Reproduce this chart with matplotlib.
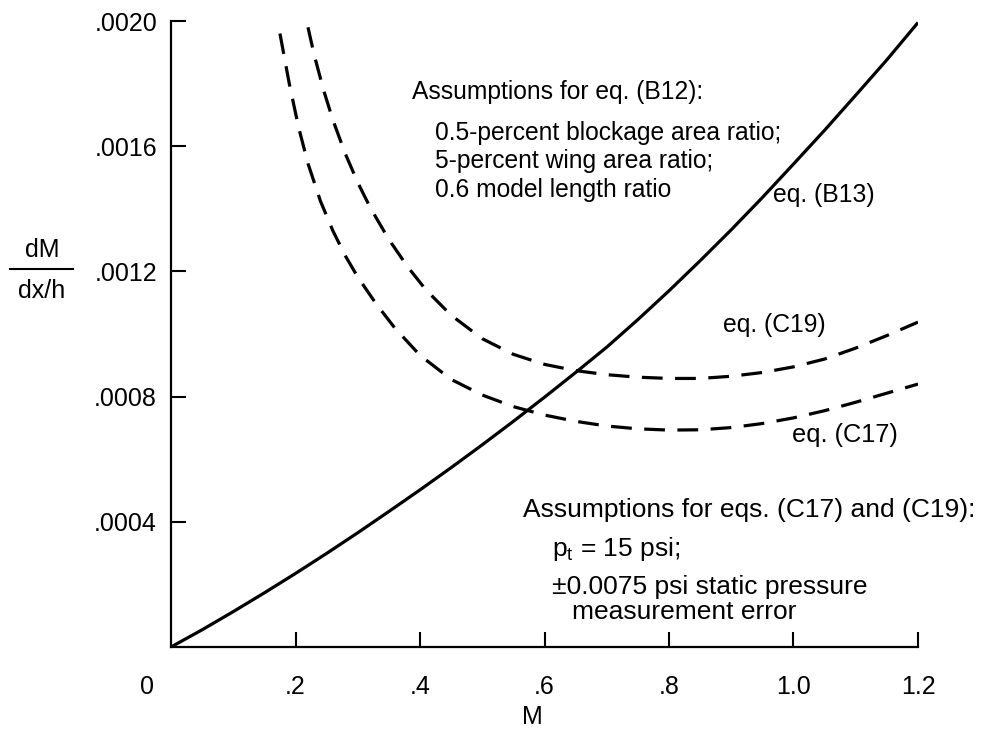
import matplotlib
matplotlib.use("Agg")
import matplotlib.pyplot as plt
from matplotlib.lines import Line2D

plt.rcParams['font.family'] = ['Liberation Sans', 'DejaVu Sans']
plt.rcParams['mathtext.fontset'] = 'custom'
plt.rcParams['mathtext.rm'] = 'Liberation Sans'
plt.rcParams['mathtext.it'] = 'Liberation Sans'

# ---- data ----
m_b13 = [0, 0.05, 0.1, 0.15, 0.2, 0.25, 0.3, 0.35, 0.4, 0.45, 0.5, 0.55, 0.6,
         0.65, 0.7, 0.75, 0.8, 0.85, 0.9, 0.95, 1.0, 1.05, 1.1, 1.15, 1.2]
dm_b13 = [0, 0.000055, 0.000113, 0.000173, 0.000235, 0.000299, 0.000365,
          0.000433, 0.000502, 0.000573, 0.000646, 0.000721, 0.000798,
          0.000877, 0.000958, 0.001046, 0.001138, 0.001234, 0.001333,
          0.001436, 0.001543, 0.001651, 0.001763, 0.001876, 0.001995]

m_c17 = [0.175, 0.19, 0.205, 0.22, 0.24, 0.26, 0.28, 0.30, 0.33, 0.36, 0.40,
         0.45, 0.50, 0.55, 0.60, 0.65, 0.70, 0.75, 0.80, 0.85, 0.90, 0.95,
         1.00, 1.05, 1.10, 1.15, 1.20]
dm_c17 = [0.00196, 0.00180, 0.00166, 0.001545, 0.001425, 0.00133, 0.00125,
          0.001182, 0.001095, 0.001018, 0.000932, 0.000855, 0.000805,
          0.000768, 0.000741, 0.000721, 0.000706, 0.000697, 0.000693,
          0.000694, 0.000701, 0.000714, 0.000732, 0.000755, 0.000782,
          0.000811, 0.000840]

m_c19 = [0.22, 0.23, 0.245, 0.26, 0.28, 0.30, 0.32, 0.35, 0.38, 0.41, 0.45,
         0.50, 0.55, 0.60, 0.65, 0.70, 0.75, 0.80, 0.85, 0.90, 0.95, 1.00,
         1.05, 1.10, 1.15, 1.20]
dm_c19 = [0.00198, 0.001892, 0.00178, 0.001684, 0.001576, 0.001484, 0.001404,
          0.001302, 0.001215, 0.00114, 0.00106, 0.000985, 0.000935, 0.000903,
          0.000883, 0.00087, 0.000862, 0.000858, 0.000858, 0.000865, 0.000877,
          0.000895, 0.00092, 0.000955, 0.000995, 0.001038]

x_ticks = [0.2, 0.4, 0.6, 0.8, 1.0, 1.2]
x_labels = ['.2', '.4', '.6', '.8', '1.0', '1.2']
y_ticks = [0.0004, 0.0008, 0.0012, 0.0016, 0.0020]
y_labels = ['.0004', '.0008', '.0012', '.0016', '.0020']

W, H = 984, 732
fig = plt.figure(figsize=(W / 100, H / 100), dpi=100)
ax = fig.add_axes([171 / W, 1 - 647 / H, (918 - 171) / W, (647 - 21) / H])

ax.plot(m_b13, dm_b13, color='black', lw=2.3, solid_capstyle='butt')
ax.plot(m_c17, dm_c17, color='black', lw=2.3, dashes=(6.5, 3.9))
ax.plot(m_c19, dm_c19, color='black', lw=2.3, dashes=(6.5, 3.9))

ax.set_xlim(0, 1.2)
ax.set_ylim(0, 0.002)
ax.spines['top'].set_visible(False)
ax.spines['right'].set_visible(False)
for s in ('left', 'bottom'):
    ax.spines[s].set_linewidth(1.6)

ax.set_xticks(x_ticks)
ax.set_xticklabels(x_labels)
ax.set_yticks(y_ticks)
ax.set_yticklabels(y_labels)
ax.tick_params(axis='both', direction='in', length=11, width=1.5, labelsize=18)
ax.tick_params(axis='x', pad=20)
ax.tick_params(axis='y', pad=10)

ax.annotate('0', xy=(0, 0), xytext=(-17, -29), textcoords='offset points',
            ha='center', va='center', fontsize=18)

def ftext(px, py, s, fs, **kw):
    fig.text(px / W, 1 - py / H, s, fontsize=fs, **kw)

ftext(532, 717, 'M', 18, ha='center', va='center')
ftext(42, 250, 'dM', 18, ha='center', va='center')
ftext(42, 291, 'dx/h', 18, ha='center', va='center')
fig.add_artist(Line2D([10 / W, 73 / W], [1 - 269 / H, 1 - 269 / H],
                      color='black', lw=1.5))

fu = 17.7
ftext(412, 92, 'Assumptions for eq. (B12):', fu, va='center')
ftext(435, 133, '0.5-percent blockage area ratio;', fu, va='center')
ftext(435, 161, '5-percent wing area ratio;', fu, va='center')
ftext(435, 190, '0.6 model length ratio', fu, va='center')
ftext(773, 195, 'eq. (B13)', 17.8, va='center')
ftext(723, 325, 'eq. (C19)', 17.8, va='center')
ftext(792, 435, 'eq. (C17)', 18.3, va='center')

fl = 19
ftext(523, 510, 'Assumptions for eqs. (C17) and (C19):', fl, va='center')
ftext(552, 549, r'p$_\mathrm{t}$ = 15 psi;', fl, va='center')
ftext(552, 587, '\u00b10.0075 psi static pressure', fl, va='center')
ftext(572, 612, 'measurement error', fl, va='center')

fig.savefig('out.png', dpi=100)
